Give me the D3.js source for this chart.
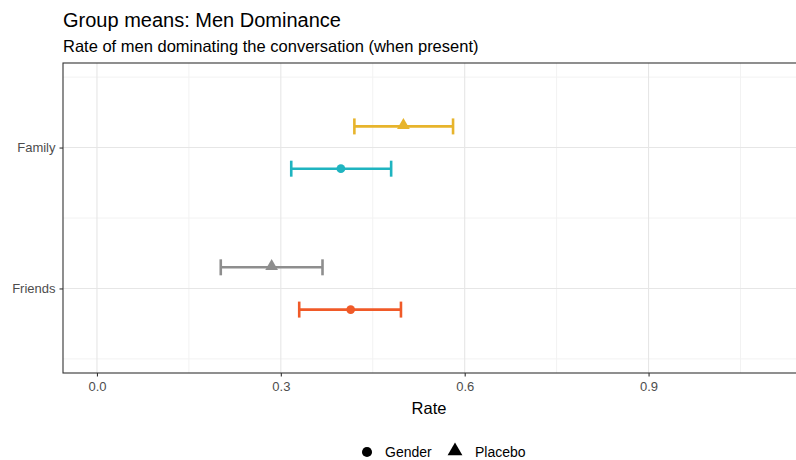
<!DOCTYPE html>
<html>
<head>
<meta charset="utf-8">
<script src="https://cdn.jsdelivr.net/npm/d3@7"></script>
<style>
  html, body { margin: 0; padding: 0; background: #fff; }
  svg { display: block; font-family: "Liberation Sans", Arial, sans-serif; }
</style>
</head>
<body>
<svg id="chart" width="796" height="460"></svg>
<script>
// Context categories (top to bottom) and condition groups
const contexts = ["Family", "Friends"];
const conditions = ["Gender", "Placebo"];

// Mean rate and interval bounds per context x condition
const meanFamily   = [0.398, 0.500];   // Gender, Placebo
const lowerFamily  = [0.317, 0.420];
const upperFamily  = [0.480, 0.581];
const meanFriends  = [0.414, 0.285];
const lowerFriends = [0.330, 0.202];
const upperFriends = [0.496, 0.368];

const xTicks = [0.0, 0.3, 0.6, 0.9];
const xMinor = [0.15, 0.45, 0.75, 1.05];

const colorOf = {
  "Family|Gender": "#1fb4c0",
  "Family|Placebo": "#e7b42c",
  "Friends|Gender": "#f05a28",
  "Friends|Placebo": "#8e8e8e"
};

const rows = [];
[[contexts[0], meanFamily, lowerFamily, upperFamily],
 [contexts[1], meanFriends, lowerFriends, upperFriends]].forEach(([ctx, m, lo, hi]) => {
  conditions.forEach((cond, i) => {
    rows.push({ context: ctx, condition: cond, mean: m[i], lo: lo[i], hi: hi[i] });
  });
});

const svg = d3.select("#chart");
const panel = { left: 63, top: 63, right: 810, bottom: 373 };

const x = d3.scaleLinear().domain([-0.0554, 1.1634]).range([panel.left, panel.right]);
// Discrete y positions with 0.6 expansion on each side
const yCont = d3.scaleLinear().domain([2.6, 0.4]).range([panel.top, panel.bottom]);
const yPos = { "Family": 2, "Friends": 1 };
const dodge = { "Placebo": 0.15, "Gender": -0.15 };

// Titles
svg.append("text").attr("x", 63).attr("y", 27)
  .attr("font-size", 20).attr("fill", "#000")
  .text("Group means: Men Dominance");
svg.append("text").attr("x", 63).attr("y", 52)
  .attr("font-size", 16.5).attr("fill", "#000")
  .text("Rate of men dominating the conversation (when present)");

const g = svg.append("g");

// Minor grid
g.selectAll("line.xminor").data(xMinor).join("line")
  .attr("x1", d => x(d)).attr("x2", d => x(d))
  .attr("y1", panel.top).attr("y2", panel.bottom)
  .attr("stroke", "#f2f2f2").attr("stroke-width", 1);
g.selectAll("line.yminor").data([0.5, 1.5, 2.5]).join("line")
  .attr("x1", panel.left).attr("x2", panel.right)
  .attr("y1", d => yCont(d)).attr("y2", d => yCont(d))
  .attr("stroke", "#f2f2f2").attr("stroke-width", 1);

// Major grid
g.selectAll("line.xmajor").data(xTicks).join("line")
  .attr("x1", d => x(d)).attr("x2", d => x(d))
  .attr("y1", panel.top).attr("y2", panel.bottom)
  .attr("stroke", "#e6e6e6").attr("stroke-width", 1.1);
g.selectAll("line.ymajor").data(contexts).join("line")
  .attr("x1", panel.left).attr("x2", panel.right)
  .attr("y1", d => yCont(yPos[d])).attr("y2", d => yCont(yPos[d]))
  .attr("stroke", "#e6e6e6").attr("stroke-width", 1.1);

// Error bars
const capHalf = 8;
const marks = g.selectAll("g.mark").data(rows).join("g")
  .attr("transform", d => `translate(0,${yCont(yPos[d.context] + dodge[d.condition])})`);
marks.append("line")
  .attr("x1", d => x(d.lo)).attr("x2", d => x(d.hi))
  .attr("stroke", d => colorOf[d.context + "|" + d.condition]).attr("stroke-width", 2.6);
marks.append("line")
  .attr("x1", d => x(d.lo)).attr("x2", d => x(d.lo))
  .attr("y1", -capHalf).attr("y2", capHalf)
  .attr("stroke", d => colorOf[d.context + "|" + d.condition]).attr("stroke-width", 2.6);
marks.append("line")
  .attr("x1", d => x(d.hi)).attr("x2", d => x(d.hi))
  .attr("y1", -capHalf).attr("y2", capHalf)
  .attr("stroke", d => colorOf[d.context + "|" + d.condition]).attr("stroke-width", 2.6);

const shapeOf = {
  Gender: d3.symbol().type(d3.symbolCircle).size(60),
  Placebo: d3.symbol().type(d3.symbolTriangle).size(70)
};
marks.append("path")
  .attr("transform", d => `translate(${x(d.mean)},${d.condition === "Placebo" ? -1 : 0})`)
  .attr("d", d => shapeOf[d.condition]())
  .attr("fill", d => colorOf[d.context + "|" + d.condition]);

// Panel border
svg.append("rect")
  .attr("x", panel.left).attr("y", panel.top)
  .attr("width", panel.right - panel.left).attr("height", panel.bottom - panel.top)
  .attr("fill", "none").attr("stroke", "#333").attr("stroke-width", 1.1);

// X axis
const xAxis = d3.axisBottom(x).tickValues(xTicks).tickFormat(d3.format(".1f"))
  .tickSize(3.5).tickPadding(5);
const xg = svg.append("g").attr("transform", `translate(0,${panel.bottom})`).call(xAxis);
xg.select(".domain").remove();
xg.selectAll(".tick line").attr("stroke", "#333").attr("stroke-width", 1.1);
xg.selectAll(".tick text").attr("fill", "#4d4d4d").attr("font-size", 13)
  .attr("font-family", "Liberation Sans, Arial, sans-serif");

// Y axis
const yBand = d3.scalePoint().domain(contexts).range([yCont(2), yCont(1)]);
const yAxis = d3.axisLeft(yBand).tickSize(3.5).tickPadding(4);
const yg = svg.append("g").attr("transform", `translate(${panel.left},0)`).call(yAxis);
yg.select(".domain").remove();
yg.selectAll(".tick line").attr("stroke", "#333").attr("stroke-width", 1.1);
yg.selectAll(".tick text").attr("fill", "#4d4d4d").attr("font-size", 13)
  .attr("font-family", "Liberation Sans, Arial, sans-serif");

// Axis title
svg.append("text").attr("x", 429).attr("y", 414)
  .attr("text-anchor", "middle").attr("font-size", 16.5).attr("fill", "#000")
  .text("Rate");

// Legend
const legend = svg.append("g").attr("transform", "translate(0,452)");
const legItems = [
  { label: conditions[0], sx: 367, tx: 385 },
  { label: conditions[1], sx: 455, tx: 475 }
];
legend.selectAll("path").data(legItems).join("path")
  .attr("transform", d => `translate(${d.sx},${d.label === "Placebo" ? -1 : 0})`)
  .attr("d", d => d3.symbol().type(d.label === "Gender" ? d3.symbolCircle : d3.symbolTriangle)
    .size(d.label === "Gender" ? 80 : 95)())
  .attr("fill", "#000");
legend.selectAll("text").data(legItems).join("text")
  .attr("x", d => d.tx).attr("y", 5)
  .attr("font-size", 14).attr("fill", "#000")
  .text(d => d.label);
</script>
</body>
</html>
